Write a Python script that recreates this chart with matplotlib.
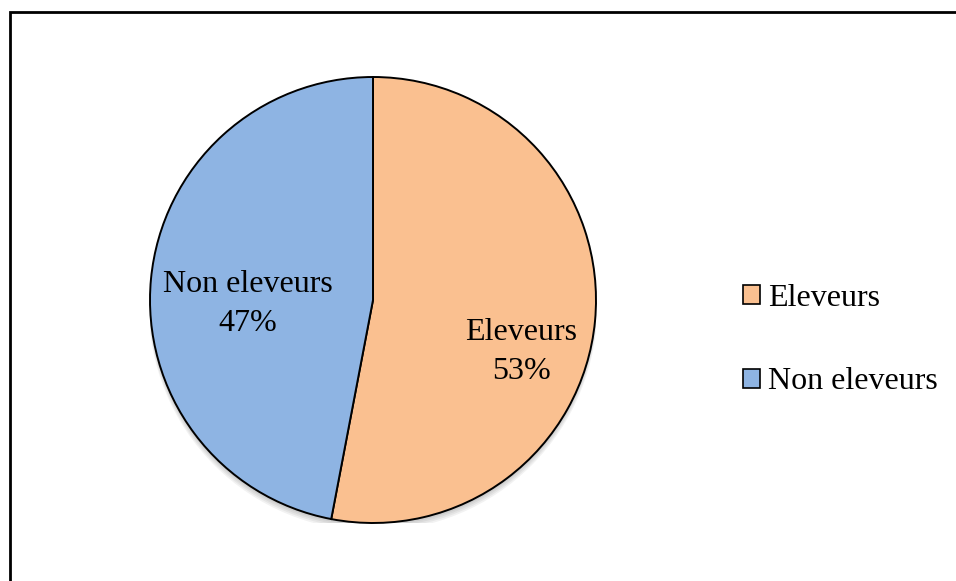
import matplotlib.pyplot as plt
from matplotlib.patches import Rectangle, Circle

labels = ['Eleveurs', 'Non eleveurs']
shares = [53, 47]
colors = ['#FAC090', '#8EB4E3']

plt.rcParams['font.family'] = ['Liberation Serif', 'DejaVu Serif']

W, H = 956, 581
fig = plt.figure(figsize=(W / 100, H / 100), dpi=100)

# frame around the chart area (runs off the right and bottom edges)
fig.patches.append(Rectangle((9.5 / W, -0.05), 1.0, 1 - 11.5 / H + 0.05,
                             transform=fig.transFigure, fill=False,
                             edgecolor='black', linewidth=2, zorder=10))

# pie axes: centre (373, 300), radius 223 px
r = 223
cx, cy = 373, H - 300
ax = fig.add_axes([(cx - r) / W, (cy - r) / H, 2 * r / W, 2 * r / H])

# soft shadow under the pie
for i in range(4):
    ax.add_patch(Circle((0, -0.012 - i * 0.006), 1.0 + i * 0.002,
                        facecolor='black', alpha=0.05, edgecolor='none', zorder=0))

wedges, _ = ax.pie(shares, colors=colors, startangle=90, counterclock=False,
                   radius=1.0,
                   wedgeprops=dict(edgecolor='black', linewidth=1.4, zorder=2))
ax.set_xlim(-1, 1)
ax.set_ylim(-1, 1)
ax.set_aspect('equal')
ax.axis('off')

label_pos = [(0.665, -0.233), (-0.56, -0.018)]
for lab, s, (x, y) in zip(labels, shares, label_pos):
    ax.text(x, y, f'{lab}\n{s}%', ha='center', va='center', fontsize=23,
            linespacing=1.45, zorder=5)

leg = fig.legend(wedges, labels, loc='center left',
                 bbox_to_anchor=(714 / W, 1 - 340 / H), frameon=False,
                 fontsize=23, handlelength=0.55, handleheight=0.55,
                 handletextpad=0.25, labelspacing=1.72)
for h in leg.legend_handles:
    h.set_linewidth(1.2)

fig.savefig('out.png', dpi=100)
